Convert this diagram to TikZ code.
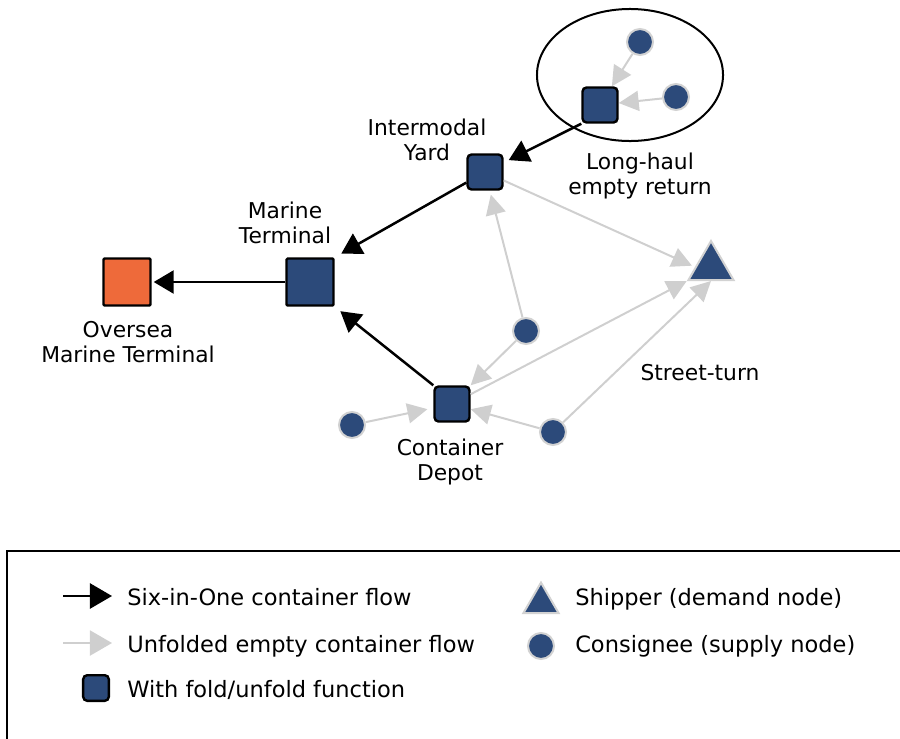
\documentclass[tikz,border=0pt]{standalone}
\usepackage{fontspec}
\setmainfont{DejaVu Sans}
\usetikzlibrary{
  shapes.geometric,
  arrows.meta,
  positioning
}
\usepackage{xcolor}
\definecolor{navyfill}{HTML}{2C4A7A}
\definecolor{orangefill}{HTML}{EE6A3A}
\definecolor{flowgray}{HTML}{CFCFCF}
\definecolor{ringgray}{HTML}{D2D2D2}

\begin{document}
\begin{tikzpicture}[
  x=0.025cm, y=-0.025cm,
  fold_box/.style={
    draw=black,
    line width=0.06cm,
    fill=navyfill,
    minimum size=0.875cm,
    rounded corners=0.1cm,
    inner sep=0pt,
  },
  terminal_box/.style={
    draw=black,
    line width=0.06cm,
    minimum size=1.175cm,
    rounded corners=0.03cm,
    inner sep=0pt,
  },
  consignee/.style={
    circle,
    draw=ringgray,
    line width=0.05cm,
    fill=navyfill,
    minimum size=0.65cm,
    inner sep=0pt,
  },
  shipper/.style={
    regular polygon,
    regular polygon sides=3,
    draw=ringgray,
    line width=0.05cm,
    fill=navyfill,
    minimum size=1.3cm,
    inner sep=0pt,
  },
  label_text/.style={align=center, inner sep=0pt, font=\fontsize{15.5}{17.8}\selectfont},
  key_text/.style={anchor=base west, inner sep=0pt, font=\fontsize{16}{18}\selectfont},
  six_flow/.style={draw=black, line width=0.0625cm, -{Triangle[length=0.5cm, width=0.575cm]}},
  empty_flow/.style={draw=flowgray, line width=0.05cm, -{Triangle[length=0.5cm, width=0.5cm]}},
  key_tip/.style={-{Triangle[length=0.55cm, width=0.625cm]}},
  ]

  \path[use as bounding box] (0,0) rectangle (900,738);

  \node[ellipse, draw=black, line width=0.05cm, minimum width=4.65cm, minimum height=3.3cm, inner sep=0pt] (haul_zone) at (630,75) {};

  \node[fold_box] (haul) at (600,105) {};
  \node[consignee] (haul_a) at (640,42) {};
  \node[consignee] (haul_b) at (676,97) {};
  \node[fold_box] (yard) at (485,172) {};
  \node[terminal_box, fill=navyfill] (marine) at (310,282) {};
  \node[terminal_box, fill=orangefill] (oversea) at (127,282) {};
  \node[fold_box] (depot) at (452,404) {};
  \node[shipper] (ship) at (711,267) {};
  \node[consignee] (cons_a) at (526,331) {};
  \node[consignee] (cons_b) at (352,425) {};
  \node[consignee] (cons_c) at (553,432) {};

  \node[label_text] (yard_lbl) at (427,140) {Intermodal\\Yard};
  \node[label_text] (marine_lbl) at (285,223) {Marine\\Terminal};
  \node[label_text] (oversea_lbl) at (128,342) {Oversea\\Marine Terminal};
  \node[label_text] (depot_lbl) at (450,462) {Container\\Depot};
  \node[label_text] (haul_lbl) at (640,176) {Long-haul\\empty return};
  \node[label_text] (turn_lbl) at (700,373) {Street-turn};

  \draw[six_flow, shorten >=0.14cm] (haul.south west) -- (yard);
  \draw[six_flow, shorten >=0.19cm] (yard) -- (marine.north east);
  \draw[six_flow, shorten >=0.05cm] (marine) -- (oversea);
  \draw[six_flow, shorten >=0.18cm] (depot.north west) -- (marine.south east);

  \draw[empty_flow] (haul_a) -- (haul);
  \draw[empty_flow] (haul_b) -- (haul);
  \draw[empty_flow, shorten >=0.08cm] (yard) -- (ship.west);
  \draw[empty_flow, shorten >=0.1cm] (cons_a) -- (yard);
  \draw[empty_flow] (cons_a) -- (depot.north east);
  \draw[empty_flow] (depot) -- (ship.corner 2);
  \draw[empty_flow, shorten >=0.15cm] (cons_b) -- (depot);
  \draw[empty_flow] (cons_c) -- (depot);
  \draw[empty_flow] (cons_c) -- (ship.south);

  % legend
  \draw[line width=0.0625cm] (7,551) rectangle (910,750);

  \coordinate (key_six_a) at (63,596);
  \coordinate (key_six_b) at (112,596);
  \draw[six_flow, key_tip] (key_six_a) -- (key_six_b);
  \node[key_text] (key_six) at (127,605) {Six-in-One container flow};

  \coordinate (key_empty_a) at (63,643);
  \coordinate (key_empty_b) at (112,643);
  \draw[empty_flow, key_tip] (key_empty_a) -- (key_empty_b);
  \node[key_text] (key_empty) at (127,652) {Unfolded empty container flow};

  \node[fold_box, minimum size=0.64cm] (key_fold_box) at (96,688) {};
  \node[key_text] (key_fold) at (127,697) {With fold/unfold function};

  \node[shipper, minimum size=1.02cm] (key_ship_mark) at (541,603) {};
  \node[key_text] (key_ship) at (575,605) {Shipper (demand node)};

  \node[consignee] (key_cons_mark) at (541,646) {};
  \node[key_text] (key_cons) at (575,652) {Consignee (supply node)};

\end{tikzpicture}
\end{document}
